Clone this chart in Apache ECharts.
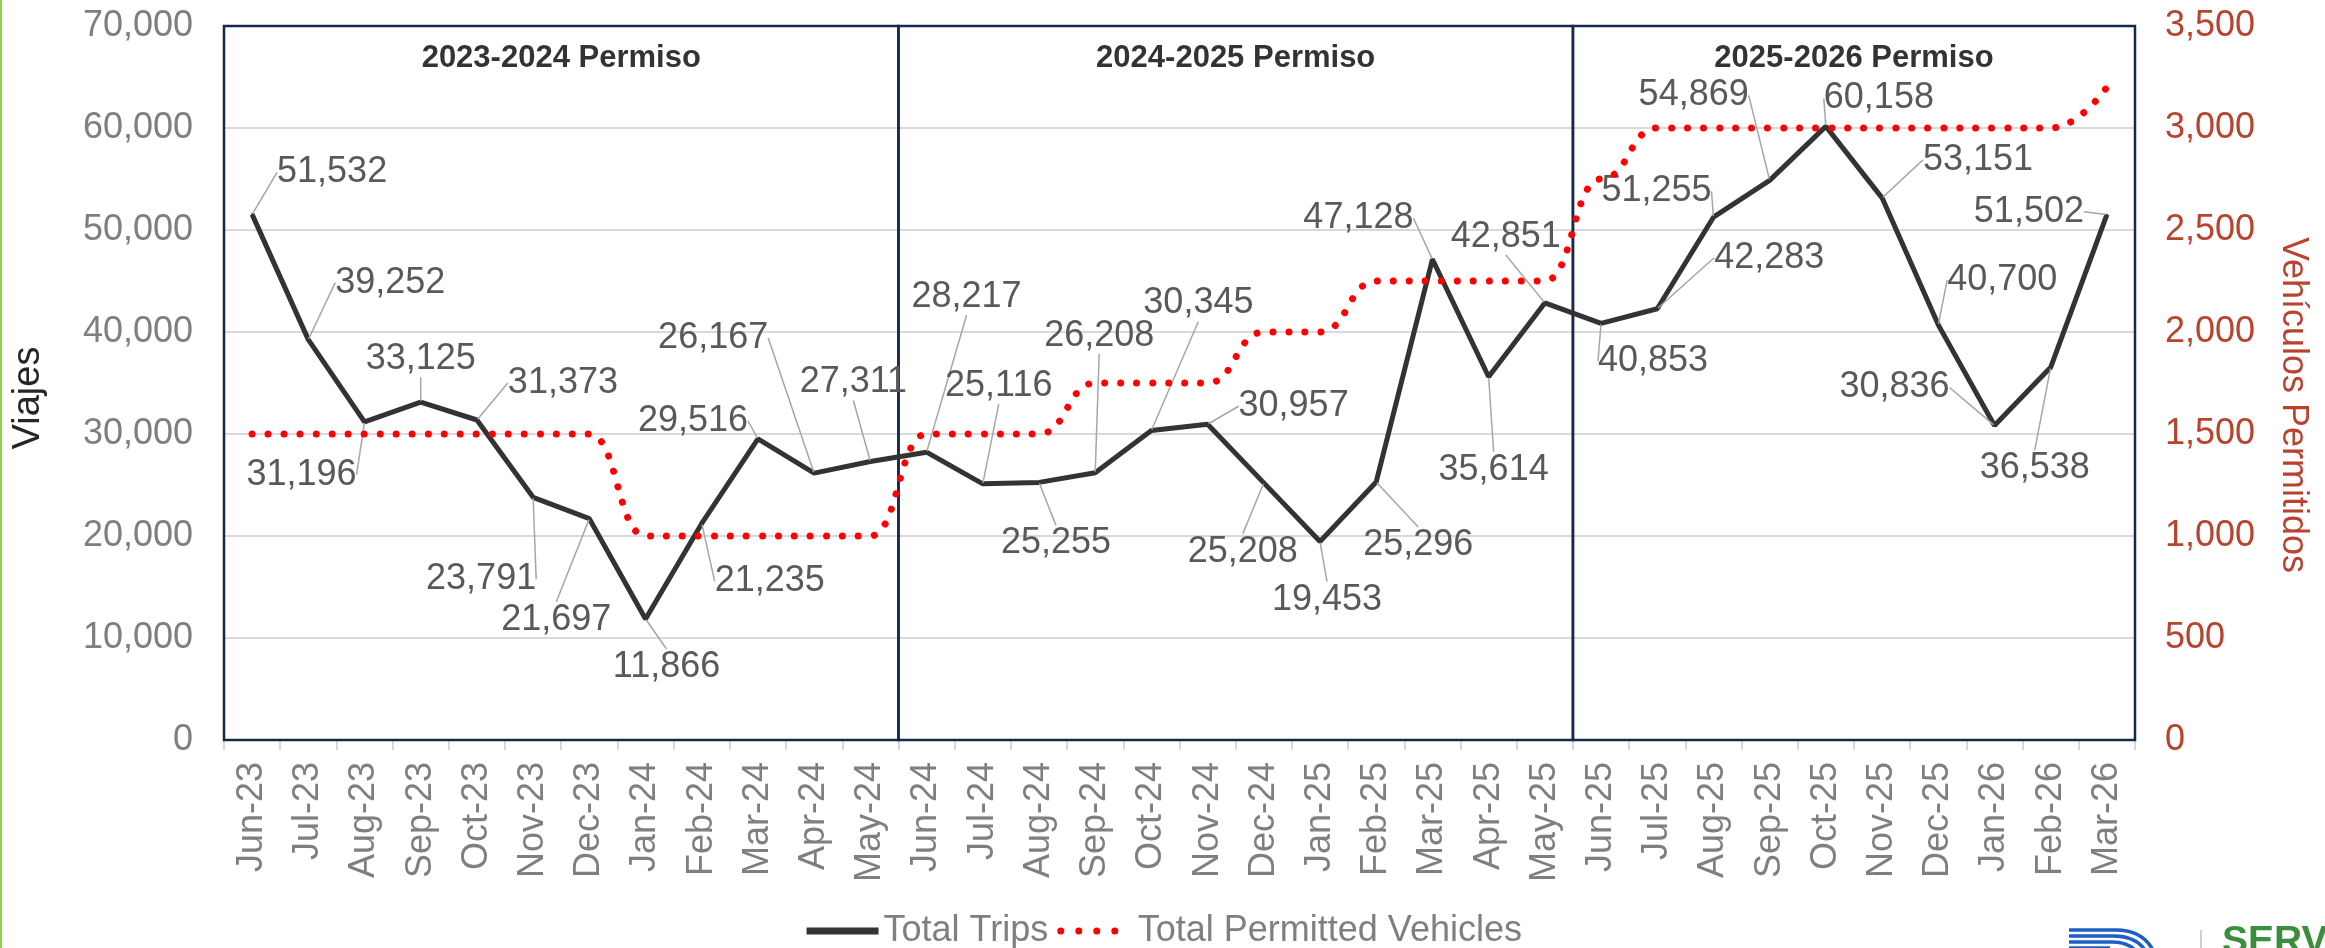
<!DOCTYPE html>
<html>
<head>
<meta charset="utf-8">
<script src="https://cdn.jsdelivr.net/npm/echarts@6/dist/echarts.min.js"></script>
<style>
html, body { margin: 0; padding: 0; background: #ffffff; }
#chart { width: 2325px; height: 948px; }
</style>
</head>
<body>
<div id="chart"></div>
<script>
// ---------------- data ----------------
const months = ['Jun-23','Jul-23','Aug-23','Sep-23','Oct-23','Nov-23','Dec-23','Jan-24','Feb-24','Mar-24','Apr-24','May-24',
                'Jun-24','Jul-24','Aug-24','Sep-24','Oct-24','Nov-24','Dec-24','Jan-25','Feb-25','Mar-25','Apr-25','May-25',
                'Jun-25','Jul-25','Aug-25','Sep-25','Oct-25','Nov-25','Dec-25','Jan-26','Feb-26','Mar-26'];
const totalTrips = [51532, 39252, 31196, 33125, 31373, 23791, 21697, 11866, 21235, 29516, 26167, 27311,
                    28217, 25116, 25255, 26208, 30345, 30957, 25208, 19453, 25296, 47128, 35614, 42851,
                    40853, 42283, 51255, 54869, 60158, 53151, 40700, 30836, 36538, 51502];
const permittedVehicles = [1500, 1500, 1500, 1500, 1500, 1500, 1500, 1000, 1000, 1000, 1000, 1000,
                           1500, 1500, 1500, 1750, 1750, 1750, 2000, 2000, 2250, 2250, 2250, 2250,
                           2750, 3000, 3000, 3000, 3000, 3000, 3000, 3000, 3000, 3200];
const permitPeriods = ['2023-2024 Permiso', '2024-2025 Permiso', '2025-2026 Permiso'];
const periodStartIndex = [0, 12, 24, 34];   // first month index of each permit period (and end)
const seriesNames = ['Total Trips', 'Total Permitted Vehicles'];
const leftAxisName = 'Viajes';
const rightAxisName = 'Vehículos Permitidos';

// label placement (pixel offset of each data label from its point)
const labelOffsets = [
  [80,-42],[82,-57],[-63,53],[0,-43],[86,-37],[-52,82],[-33,101],[21,48],[68,58],[-65,-18],[-101,-135],[-17,-79],
  [40,-155],[16,-98],[17,61],[4,-137],[47,-127],[86,-18],[-21,69],[7,58],[42,63],[-74,-41],[5,93],[-39,-66],
  [52,38],[112,-51],[-57,-26],[-76,-85],[53,-28],[96,-38],[64,-45],[-100,-38],[-16,101],[-78,-3]
];

// ---------------- chart ----------------
const FONT = "'Liberation Sans', Arial, sans-serif";
const fmt = v => Number(v).toLocaleString('en-US');
const chart = echarts.init(document.getElementById('chart'), null, { renderer: 'canvas' });

const LOGO_BLUE = '#1D5FC4';
const stripe = (y, xEnd, cpx, x2) => ([
  { type: 'line', shape: { x1: 2069, y1: y, x2: xEnd, y2: y }, style: { stroke: LOGO_BLUE, lineWidth: 3.5 }, silent: true },
  { type: 'bezierCurve', shape: { x1: xEnd, y1: y, cpx1: cpx, cpy1: y, x2: x2, y2: 950 }, style: { stroke: LOGO_BLUE, lineWidth: 3.5, fill: null }, silent: true }
]);

const option = {
  animation: false,
  backgroundColor: '#ffffff',
  textStyle: { fontFamily: FONT },
  grid: { left: 224, right: 190, top: 26, bottom: 208, containLabel: false },
  legend: {
    data: [
      { name: seriesNames[0], lineStyle: { width: 7, color: '#333333' } },
      { name: seriesNames[1], lineStyle: { width: 7, color: '#FF0000', type: [0.01, 18], cap: 'round' } }
    ],
    left: 'center',
    top: 908,
    itemWidth: 72,
    itemHeight: 16,
    itemGap: 9,
    itemStyle: { opacity: 0 },
    textStyle: { fontSize: 36, color: '#7F7F7F', fontFamily: FONT }
  },
  xAxis: [
    {
      type: 'category',
      data: months,
      boundaryGap: true,
      axisLine: { show: true, lineStyle: { color: '#D9D9D9', width: 2 } },
      axisTick: { show: true, alignWithLabel: false, length: 10, lineStyle: { color: '#D9D9D9', width: 2 } },
      axisLabel: { rotate: 90, interval: 0, fontSize: 36, color: '#7F7F7F', margin: 22, fontFamily: FONT },
      splitLine: { show: false }
    },
    { type: 'value', min: 0, max: months.length, show: false, splitLine: { show: false } }
  ],
  yAxis: [
    {
      type: 'value', min: 0, max: 70000, interval: 10000,
      name: leftAxisName, nameLocation: 'middle', nameRotate: 90, nameGap: 176,
      nameTextStyle: { fontSize: 38, color: '#262626', fontFamily: FONT, padding: [0, 30, 0, 0] },
      axisLabel: { formatter: v => fmt(v), fontSize: 36, color: '#7F7F7F', margin: 31, fontFamily: FONT },
      axisLine: { show: false }, axisTick: { show: false },
      splitLine: { show: true, lineStyle: { color: '#D9D9D9', width: 2 } }
    },
    {
      type: 'value', position: 'right', min: 0, max: 3500, interval: 500,
      name: rightAxisName, nameLocation: 'middle', nameRotate: -90, nameGap: 140,
      nameTextStyle: { fontSize: 36, color: '#B8432F', fontFamily: FONT, padding: [0, 0, 0, 44] },
      axisLabel: { formatter: v => fmt(v), fontSize: 36, color: '#B8432F', margin: 30, fontFamily: FONT },
      axisLine: { show: false }, axisTick: { show: false },
      splitLine: { show: false }
    }
  ],
  series: [
    {
      name: 'periods',
      type: 'line',
      xAxisIndex: 1,
      yAxisIndex: 0,
      data: [],
      silent: true,
      z: 1,
      markArea: {
        silent: true,
        itemStyle: { color: 'rgba(0,0,0,0)', borderColor: '#14284B', borderWidth: 2.5 },
        label: { show: true, position: 'insideTop', distance: 18, fontSize: 31, fontWeight: 'bold', color: '#333333', fontFamily: FONT },
        data: permitPeriods.map((p, i) => [
          { name: p, xAxis: periodStartIndex[i] },
          { xAxis: periodStartIndex[i + 1] }
        ])
      }
    },
    {
      name: seriesNames[0],
      type: 'line',
      data: totalTrips,
      xAxisIndex: 0,
      yAxisIndex: 0,
      symbol: 'circle',
      symbolSize: 2,
      showSymbol: true,
      itemStyle: { color: '#333333' },
      lineStyle: { color: '#333333', width: 5 },
      z: 3,
      label: {
        show: true, position: 'inside',
        formatter: p => fmt(p.value),
        fontSize: 36, color: '#595959', fontFamily: FONT
      },
      labelLine: { show: true, lineStyle: { color: '#A6A6A6', width: 1.5 } },
      labelLayout: p => ({ dx: labelOffsets[p.dataIndex][0], dy: labelOffsets[p.dataIndex][1] })
    },
    {
      name: seriesNames[1],
      type: 'line',
      data: permittedVehicles,
      xAxisIndex: 0,
      yAxisIndex: 1,
      smooth: 0.5,
      smoothMonotone: 'x',
      symbol: 'none',
      itemStyle: { color: '#FF0000' },
      lineStyle: { color: '#FF0000', width: 7, type: [0.01, 16], cap: 'round' },
      z: 4
    }
  ],
  graphic: [
    { type: 'rect', left: 0, top: 0, shape: { width: 2, height: 948 }, style: { fill: '#92D050' }, silent: true },
    ...stripe(930, 2116, 2142, 2153),
    ...stripe(936, 2114, 2135, 2145),
    ...stripe(942, 2112, 2127, 2135),
    { type: 'line', shape: { x1: 2069, y1: 948, x2: 2110, y2: 948 }, style: { stroke: LOGO_BLUE, lineWidth: 3.5 }, silent: true },
    { type: 'line', shape: { x1: 2201, y1: 930, x2: 2201, y2: 948 }, style: { stroke: '#BFBFBF', lineWidth: 1.5 }, silent: true },
    { type: 'text', x: 2222, y: 923, style: { text: 'SERV', fill: '#3B8E3B', font: "bold 39px 'Liberation Sans', Arial, sans-serif", textVerticalAlign: 'top' }, silent: true }
  ]
};
chart.setOption(option);
</script>
</body>
</html>
